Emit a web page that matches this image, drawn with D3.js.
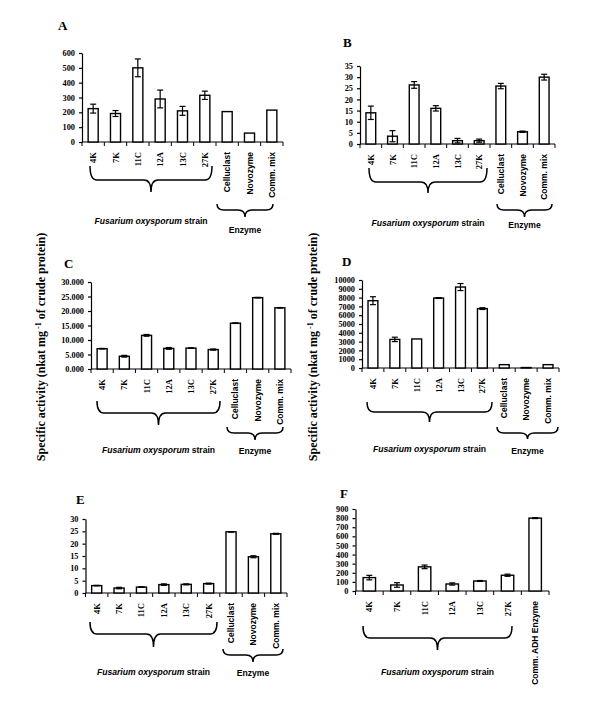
<!DOCTYPE html>
<html><head><meta charset="utf-8">
<script src="https://cdn.jsdelivr.net/npm/d3@7"></script>
<style>body{margin:0;background:#fff}svg{display:block}</style>
</head><body>
<svg id="c" width="600" height="701"></svg>
<script>
const strains = ["4K","7K","11C","12A","13C","27K"];
const enzymes = ["Celluclast","Novozyme","Comm. mix"];
const fCategories = ["4K","7K","11C","12A","13C","27K","Comm. ADH Enzyme"];

const valuesA = [225,192,500,290,210,315,205,60,215];
const errorsA = [30,20,60,60,30,28,0,0,0];
const valuesB = [14,3.5,26.5,16,1.5,1.5,26,5.5,30];
const errorsB = [3,2.5,1.5,1.2,1,0.7,1.2,0.3,1.3];
const valuesC = [7.0,4.4,11.6,7.1,7.2,6.7,15.8,24.6,21.1];
const errorsC = [0.1,0.3,0.3,0.3,0.1,0.2,0.1,0.1,0.1];
const valuesD = [7650,3250,3300,7950,9200,6750,380,50,380];
const errorsD = [450,250,0,50,400,100,0,0,0];
const valuesE = [3.0,2.0,2.4,3.4,3.5,3.8,24.8,14.7,24.0];
const errorsE = [0.1,0.3,0.1,0.3,0.2,0.2,0.1,0.4,0.2];
const valuesF = [147,66,265,77,110,173,800];
const errorsF = [25,25,20,12,5,12,5];

const ticksA = [0,100,200,300,400,500,600];
const ticksB = [0,5,10,15,20,25,30,35];
const ticksC = [0,5,10,15,20,25,30];
const ticksD = [0,1000,2000,3000,4000,5000,6000,7000,8000,9000,10000];
const ticksE = [0,5,10,15,20,25,30];
const ticksF = [0,100,200,300,400,500,600,700,800,900];

const svg = d3.select("#c");
const SERIF = "'Liberation Serif','Times New Roman',serif";
const SANS = "'Liberation Sans',Arial,sans-serif";

function bracePath(x1, x2, y0, h, tip) {
  const xm = (x1 + x2) / 2, r = Math.min(7, (x2 - x1) / 6);
  const p = d3.path();
  p.moveTo(x1, y0);
  p.quadraticCurveTo(x1, y0 + h, x1 + r, y0 + h);
  p.lineTo(xm - r, y0 + h);
  p.quadraticCurveTo(xm, y0 + h, xm, y0 + h + tip);
  p.quadraticCurveTo(xm, y0 + h, xm + r, y0 + h);
  p.lineTo(x2 - r, y0 + h);
  p.quadraticCurveTo(x2, y0 + h, x2, y0);
  return p.toString();
}

function panel(cfg) {
  const g = svg.append("g");
  const x = d3.scaleBand().domain(cfg.cats).range(cfg.xr).paddingInner(cfg.pad).paddingOuter(cfg.pad / 2);
  const y = d3.scaleLinear().domain(cfg.dom).range(cfg.yr);
  const y0 = y(0);
  const ya = d3.axisLeft(y).tickValues(cfg.ticks).tickSize(3).tickSizeOuter(0).tickFormat(cfg.fmt || d3.format("d"));
  const yg = g.append("g").attr("transform", `translate(${cfg.xr[0]},0)`).call(ya);
  yg.selectAll("text").attr("font-family", SERIF).attr("font-weight", "bold").attr("font-size", 8.3).attr("fill", "#000").attr("dx", "-1");
  yg.selectAll("line,path").attr("stroke", "#000").attr("stroke-width", 1.2);
  g.append("line").attr("x1", cfg.xr[0]).attr("x2", cfg.xr[1]).attr("y1", y0).attr("y2", y0).attr("stroke", "#000").attr("stroke-width", 1.2);
  const bounds = d3.range(cfg.cats.length + 1).map(i => cfg.xr[0] + i * (cfg.xr[1] - cfg.xr[0]) / cfg.cats.length);
  g.selectAll(".bt").data(bounds).join("line").attr("x1", d => d).attr("x2", d => d).attr("y1", y0).attr("y2", y0 + 4).attr("stroke", "#000").attr("stroke-width", 1);
  g.selectAll("rect").data(cfg.vals).join("rect")
    .attr("x", (d, i) => x(cfg.cats[i])).attr("width", x.bandwidth())
    .attr("y", d => y(d)).attr("height", d => y0 - y(d))
    .attr("fill", "#fff").attr("stroke", "#000").attr("stroke-width", 1.4);
  const eb = g.append("g");
  cfg.vals.forEach((v, i) => {
    const e = cfg.errs[i];
    if (!e) return;
    const cx = x(cfg.cats[i]) + x.bandwidth() / 2;
    eb.append("line").attr("x1", cx).attr("x2", cx).attr("y1", y(v - e)).attr("y2", y(v + e)).attr("stroke", "#000").attr("stroke-width", 1.2);
    [v - e, v + e].forEach(t => eb.append("line").attr("x1", cx - 3).attr("x2", cx + 3).attr("y1", y(t)).attr("y2", y(t)).attr("stroke", "#000").attr("stroke-width", 1.2));
  });
  g.selectAll(".cl").data(cfg.cats).join("text")
    .attr("transform", d => `translate(${x(d) + x.bandwidth() / 2 + 3},${y0 + 10}) rotate(-90)`)
    .attr("text-anchor", "end").attr("font-family", (d, i) => i >= 6 ? SANS : SERIF).attr("font-weight", "bold")
    .attr("font-size", 8.5).text(d => d);
  g.append("text").attr("x", cfg.letter[0]).attr("y", cfg.letter[1]).attr("font-family", SERIF).attr("font-weight", "bold").attr("font-size", 13).text(cfg.name);
  cfg.braces.forEach(b => {
    g.append("path").attr("d", bracePath(b.x1, b.x2, b.y, b.h, b.tip)).attr("fill", "none").attr("stroke", "#000").attr("stroke-width", 1.5);
    const t = g.append("text").attr("x", (b.x1 + b.x2) / 2).attr("y", b.ly).attr("text-anchor", "middle").attr("font-family", SANS).attr("font-weight", "bold").attr("font-size", 8.6);
    if (b.label === "strain") {
      t.append("tspan").attr("font-style", "italic").text("Fusarium oxysporum");
      t.append("tspan").text(" strain");
    } else t.text(b.label);
  });
}

const nine = strains.concat(enzymes);
panel({name:"A", letter:[58,30], cats:nine, vals:valuesA, errs:errorsA, dom:[0,600], ticks:ticksA, xr:[82,283], yr:[142,53], pad:0.55,
  braces:[{x1:90,x2:212,y:166,h:14,tip:12,ly:224,label:"strain"},{x1:217,x2:273,y:204,h:6,tip:7,ly:233,label:"Enzyme"}]});
panel({name:"B", letter:[343,47], cats:nine, vals:valuesB, errs:errorsB, dom:[0,35], ticks:ticksB, xr:[360,555], yr:[144,66], pad:0.55,
  braces:[{x1:369,x2:487,y:168,h:14,tip:11,ly:226,label:"strain"},{x1:497,x2:552,y:204,h:6,tip:7,ly:228,label:"Enzyme"}]});
panel({name:"C", letter:[64,268], cats:nine, vals:valuesC, errs:errorsC, dom:[0,30], ticks:ticksC, fmt:d3.format(".3f"), xr:[91,291], yr:[369,282], pad:0.55,
  braces:[{x1:97,x2:220,y:401,h:12,tip:12,ly:453,label:"strain"},{x1:227,x2:283,y:427,h:6,tip:7,ly:454,label:"Enzyme"}]});
panel({name:"D", letter:[342,266], cats:nine, vals:valuesD, errs:errorsD, dom:[0,10000], ticks:ticksD, xr:[362,559], yr:[368,280], pad:0.55,
  braces:[{x1:367,x2:492,y:402,h:10,tip:10,ly:452,label:"strain"},{x1:497,x2:558,y:427,h:6,tip:6,ly:454,label:"Enzyme"}]});
panel({name:"E", letter:[76,504], cats:nine, vals:valuesE, errs:errorsE, dom:[0,30], ticks:ticksE, xr:[85.5,287], yr:[593,519], pad:0.55,
  braces:[{x1:90,x2:217,y:622,h:12,tip:13,ly:675,label:"strain"},{x1:223,x2:283,y:649,h:6,tip:7,ly:676,label:"Enzyme"}]});
panel({name:"F", letter:[340,498], cats:fCategories, vals:valuesF, errs:errorsF, dom:[0,900], ticks:ticksF, xr:[355.5,549], yr:[591,509], pad:0.55,
  braces:[{x1:363,x2:512,y:626,h:12,tip:12,ly:675,label:"strain"}]});

[[45,347],[317,347]].forEach(([cx, cy]) => {
  const t = svg.append("text").attr("transform", `translate(${cx},${cy}) rotate(-90)`).attr("text-anchor", "middle")
    .attr("font-family", SERIF).attr("font-weight", "bold").attr("font-size", 12);
  t.append("tspan").text("Specific activity (nkat mg");
  t.append("tspan").attr("dy", -4).attr("font-size", 8).text(" -1");
  t.append("tspan").attr("dy", 4).text(" of crude protein)");
});
</script>
</body></html>
